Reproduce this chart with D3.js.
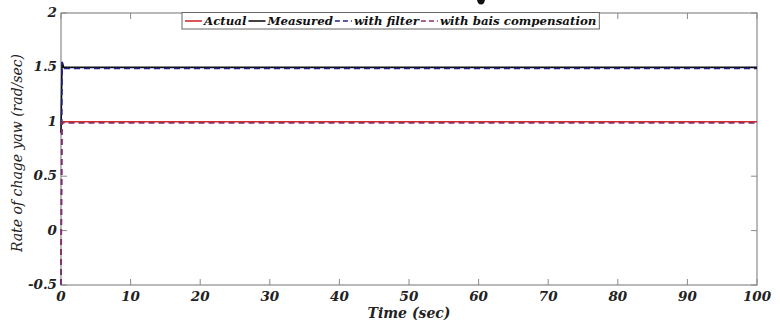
<!DOCTYPE html>
<html>
<head>
<meta charset="utf-8">
<script src="https://cdn.jsdelivr.net/npm/d3@7"></script>
<style>
  html, body { margin: 0; padding: 0; background: #fff; }
  svg { display: block; }
  .tick-label { font-family: "DejaVu Serif", serif; font-weight: bold; font-style: italic; font-size: 13.5px; fill: #222; }
  .axis-title { font-family: "DejaVu Serif", serif; font-style: italic; font-size: 14px; fill: #222; }
  .legend-text { font-family: "DejaVu Serif", serif; font-weight: bold; font-style: italic; font-size: 11.8px; fill: #111; }
</style>
</head>
<body>
<svg id="chart" width="780" height="324"></svg>
<script>
// time breakpoints (sec) and the four series
const timeSec = [0, 0.15, 0.4, 100];
const actual = [1, 1, 1, 1];
const measured = [0.9, 1.55, 1.5, 1.5];
const withFilter = [-0.5, 1.55, 1.49, 1.49];
const withBiasComp = [-0.5, 1.0, 0.99, 0.99];

const xTicks = [0, 10, 20, 30, 40, 50, 60, 70, 80, 90, 100];
const yTicks = [-0.5, 0, 0.5, 1, 1.5, 2];

const seriesList = [
  { name: "Actual", values: actual, color: "#d42a30", dash: null, width: 1.6 },
  { name: "Measured", values: measured, color: "#111111", dash: null, width: 1.6 },
  { name: "with filter", values: withFilter, color: "#23238c", dash: "6,4", width: 1.6 },
  { name: "with bais compensation", values: withBiasComp, color: "#8e2f63", dash: "6,4", width: 1.6 },
];

const svg = d3.select("#chart");
const plot = { left: 61, right: 757, top: 13, bottom: 285 };

const x = d3.scaleLinear().domain([0, 100]).range([plot.left, plot.right]);
const y = d3.scaleLinear().domain([-0.5, 2]).range([plot.bottom, plot.top]);

const axisColor = "#8a8a8a";

// box
svg.append("rect")
  .attr("x", plot.left).attr("y", plot.top)
  .attr("width", plot.right - plot.left).attr("height", plot.bottom - plot.top)
  .attr("fill", "none").attr("stroke", axisColor).attr("stroke-width", 1.2);

// ticks (inward, mirrored)
const tickLen = 6;
const tickG = svg.append("g").attr("stroke", axisColor).attr("stroke-width", 1);
xTicks.forEach((t) => {
  tickG.append("line").attr("x1", x(t)).attr("x2", x(t)).attr("y1", plot.bottom).attr("y2", plot.bottom - tickLen);
  tickG.append("line").attr("x1", x(t)).attr("x2", x(t)).attr("y1", plot.top).attr("y2", plot.top + tickLen);
});
yTicks.forEach((t) => {
  tickG.append("line").attr("x1", plot.left).attr("x2", plot.left + tickLen).attr("y1", y(t)).attr("y2", y(t));
  tickG.append("line").attr("x1", plot.right).attr("x2", plot.right - tickLen).attr("y1", y(t)).attr("y2", y(t));
});

// tick labels
svg.append("g").selectAll("text").data(xTicks).join("text")
  .attr("class", "tick-label")
  .attr("x", (d) => x(d)).attr("y", plot.bottom + 16)
  .attr("text-anchor", "middle")
  .text((d) => d);

svg.append("g").selectAll("text").data(yTicks).join("text")
  .attr("class", "tick-label")
  .attr("x", plot.left - 4).attr("y", (d) => y(d) + 4)
  .attr("text-anchor", "end")
  .text((d) => d);

// axis titles
svg.append("text").attr("class", "axis-title")
  .attr("x", (plot.left + plot.right) / 2).attr("y", 318)
  .attr("text-anchor", "middle").attr("font-weight", "bold")
  .text("Time (sec)");

svg.append("text").attr("class", "axis-title")
  .attr("transform", `translate(22,${(plot.top + plot.bottom) / 2 + 4}) rotate(-90)`)
  .attr("text-anchor", "middle")
  .text("Rate of chage yaw (rad/sec)");

// bottom of a cropped title glyph above the plot
svg.append("path")
  .attr("d", "M477,0 L485,0 L484,3 Q481,6 478,3 Z")
  .attr("fill", "#111");

// lines
const line = (vals) => d3.line()
  .x((d, i) => x(timeSec[i]))
  .y((d) => y(d))(vals);

const lineG = svg.append("g");
seriesList.forEach((s) => {
  lineG.append("path")
    .attr("d", line(s.values))
    .attr("fill", "none")
    .attr("stroke", s.color)
    .attr("stroke-width", s.width)
    .attr("stroke-dasharray", s.dash);
});

// legend
const legend = svg.append("g");
const legendBox = legend.append("rect")
  .attr("fill", "#fff").attr("stroke", "#666").attr("stroke-width", 1);
let cursor = 185;
const legendY = 21;
seriesList.forEach((s) => {
  legend.append("line")
    .attr("x1", cursor).attr("x2", cursor + 17)
    .attr("y1", legendY).attr("y2", legendY)
    .attr("stroke", s.color).attr("stroke-width", 1.6)
    .attr("stroke-dasharray", s.dash ? "5,3" : null);
  const txt = legend.append("text")
    .attr("class", "legend-text")
    .attr("x", cursor + 19).attr("y", legendY + 4)
    .text(s.name);
  cursor += 19 + txt.node().getComputedTextLength() + 2;
});
legendBox.attr("x", 182).attr("y", 12.5).attr("width", cursor - 182 + 1).attr("height", 16.5);
</script>
</body>
</html>
